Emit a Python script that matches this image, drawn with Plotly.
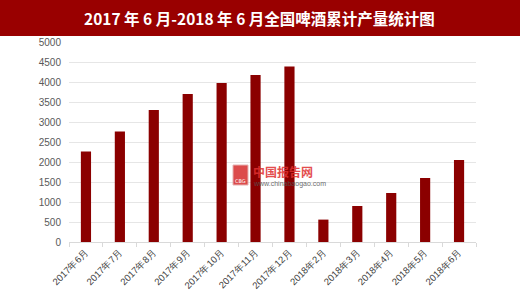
import plotly.graph_objects as go

categories = ["2017年6月", "2017年7月", "2017年8月", "2017年9月", "2017年10月", "2017年11月",
              "2017年12月", "2018年2月", "2018年3月", "2018年4月", "2018年5月", "2018年6月"]
values = [2260, 2760, 3300, 3700, 3975, 4175, 4390, 560, 900, 1225, 1600, 2050]
y_ticks = [0, 500, 1000, 1500, 2000, 2500, 3000, 3500, 4000, 4500, 5000]
title_text = "2017 年 6 月-2018 年 6 月全国啤酒累计产量统计图"

W, H = 520, 291
L, R, T, B = 69, 44, 42, 49
pw, ph = W - L - R, H - T - B

def px(x):
    return (x - L) / pw

def py(y):
    return (H - B - y) / ph

fig = go.Figure(go.Bar(x=categories, y=values, marker_color="#8B0000", marker_line_width=0))

fig.add_shape(type="rect", xref="paper", yref="paper", x0=px(0), x1=px(520), y0=py(36), y1=py(0),
              fillcolor="#990000", line_width=0, layer="above")
fig.add_annotation(text="<b>" + title_text + "</b>", xref="paper", yref="paper", x=px(259), y=py(18),
                   xanchor="center", yanchor="middle",
                   showarrow=False, font=dict(family="Noto Sans CJK SC", size=15.5, color="white"))
# watermark
fig.add_shape(type="rect", xref="paper", yref="paper", x0=px(233), x1=px(248), y0=py(185), y1=py(165),
              fillcolor="#d42020", line=dict(color="#e0a0a0", width=1), opacity=0.8)
fig.add_annotation(text="CBG", xref="paper", yref="paper", x=px(240.5), y=py(181), showarrow=False,
                   xanchor="center", yanchor="middle",
                   font=dict(family="DejaVu Sans", size=5, color="white"))
fig.add_annotation(text="<b>中国报告网</b>", xref="paper", yref="paper", x=px(251), y=py(171),
                   xanchor="left", yanchor="middle",
                   showarrow=False, font=dict(family="Noto Sans CJK SC", size=12, color="#e03030"), opacity=0.85)
fig.add_annotation(text="www.chinabaogao.com", xref="paper", yref="paper", x=px(251), y=py(183.5),
                   xanchor="left", yanchor="middle",
                   showarrow=False, font=dict(family="Liberation Sans", size=7, color="#555555"), opacity=0.85)

fig.update_layout(
    width=W, height=H, margin=dict(l=L, r=R, t=T, b=B),
    paper_bgcolor="white", plot_bgcolor="white",
    bargap=0.7, showlegend=False,
    xaxis=dict(tickangle=-45, tickfont=dict(family="Liberation Sans", size=9.5, color="#404040"),
               showline=True, linecolor="#d9d9d9", ticks="outside", tickcolor="#d9d9d9", ticklen=4,
               tickson="boundaries", showgrid=False, automargin=False),
    yaxis=dict(range=[0, 5000], tickvals=y_ticks, tickfont=dict(family="Liberation Sans", size=10, color="#595959"),
               ticklabelstandoff=7,
               showgrid=True, gridcolor="#e6e6e6", zeroline=False, ticks="", showline=False, automargin=False),
)

fig.write_html("out.html")
